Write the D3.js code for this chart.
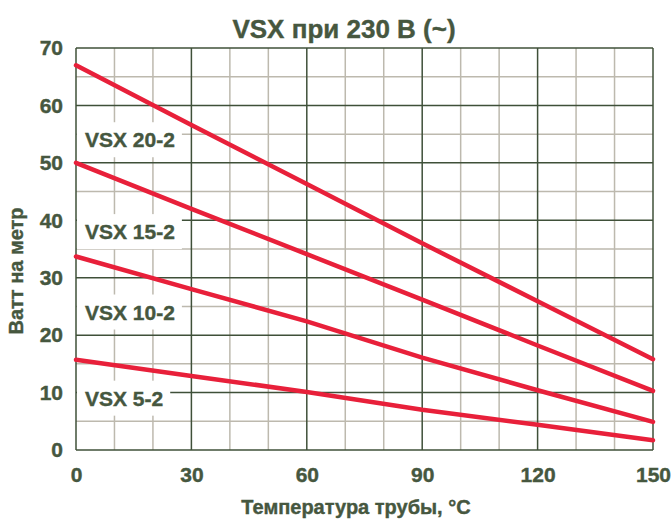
<!DOCTYPE html>
<html>
<head>
<meta charset="utf-8">
<script src="https://cdn.jsdelivr.net/npm/d3@7"></script>
<style>
  body { margin: 0; background: #fff; }
  text { font-family: "Liberation Sans", Arial, sans-serif; font-weight: bold; fill: #46573f; stroke: #46573f; stroke-width: 0.4px; }
</style>
</head>
<body>
<script>
// data
var temps = [0, 30, 60, 90, 120, 150];
var seriesNames = ["VSX 20-2", "VSX 15-2", "VSX 10-2", "VSX 5-2"];
var vsx20 = [67, 56.6, 46.3, 36.0, 25.9, 15.8];
var vsx15 = [50, 42.0, 34.1, 26.2, 18.2, 10.3];
var vsx10 = [33.7, 28.0, 22.4, 16.1, 10.4, 4.9];
var vsx5 = [15.7, 12.9, 10.1, 7.0, 4.4, 1.7];
var labelAt = [54, 38, 24, 9];   // value where each series label sits
var xTicks = [0, 30, 60, 90, 120, 150];
var yTicks = [0, 10, 20, 30, 40, 50, 60, 70];

var seriesValues = [vsx20, vsx15, vsx10, vsx5];

var W = 671, H = 519;
var margin = { top: 48, right: 18, bottom: 69, left: 76 },
  width = W - margin.left - margin.right,
  height = H - margin.top - margin.bottom;

var dark = "#3f5039", light = "#bdb9ae", red = "#e8203a";

var svg = d3.select("body").append("svg")
  .attr("width", W)
  .attr("height", H);

var g = svg.append("g")
  .attr("transform", "translate(" + margin.left + "," + margin.top + ")");

var x = d3.scaleLinear().domain([0, 150]).range([0, width]);
var y = d3.scaleLinear().domain([0, 70]).range([height, 0]);

// minor grid
g.append("g").selectAll("line")
  .data(d3.range(10, 150, 10).filter(function (v) { return v % 30 != 0; }))
  .enter().append("line")
  .attr("x1", function (d) { return x(d); }).attr("x2", function (d) { return x(d); })
  .attr("y1", 0).attr("y2", height)
  .attr("stroke", light).attr("stroke-width", 1.5);

g.append("g").selectAll("line")
  .data(d3.range(5, 70, 10))
  .enter().append("line")
  .attr("y1", function (d) { return y(d); }).attr("y2", function (d) { return y(d); })
  .attr("x1", 0).attr("x2", width)
  .attr("stroke", light).attr("stroke-width", 1.5);

// major grid
g.append("g").selectAll("line")
  .data(yTicks)
  .enter().append("line")
  .attr("y1", function (d) { return y(d); }).attr("y2", function (d) { return y(d); })
  .attr("x1", 0).attr("x2", width)
  .attr("stroke", dark).attr("stroke-width", 1.5);

g.append("g").selectAll("line")
  .data(xTicks)
  .enter().append("line")
  .attr("x1", function (d) { return x(d); }).attr("x2", function (d) { return x(d); })
  .attr("y1", 0).attr("y2", height)
  .attr("stroke", dark).attr("stroke-width", 1.5);

// axes (labels only)
var xAxis = g.append("g")
  .attr("transform", "translate(0," + height + ")")
  .call(d3.axisBottom(x).tickValues(xTicks).tickSize(0).tickPadding(17));
var yAxis = g.append("g")
  .call(d3.axisLeft(y).tickValues(yTicks).tickSize(0).tickPadding(13));
[xAxis, yAxis].forEach(function (a) {
  a.select(".domain").remove();
  a.selectAll("text")
    .style("font-family", "Liberation Sans, Arial, sans-serif")
    .style("font-weight", "bold")
    .style("font-size", "21px")
    .attr("fill", "#46573f");
});

// series labels with white boxes
seriesNames.forEach(function (name, i) {
  var t = g.append("text")
    .attr("x", 9)
    .attr("y", y(labelAt[i]))
    .attr("dy", "0.35em")
    .style("font-size", "21px")
    .text(name);
  var bb = t.node().getBBox();
  g.insert("rect", function () { return t.node(); })
    .attr("x", 1)
    .attr("y", bb.y - 6)
    .attr("width", bb.x + bb.width + 6)
    .attr("height", bb.height + 12)
    .attr("fill", "#fff");
});

// red lines
var line = d3.line()
  .x(function (d, i) { return x(temps[i]); })
  .y(function (d) { return y(d); });

g.selectAll(".series")
  .data(seriesValues)
  .enter().append("path")
  .attr("class", "series")
  .attr("d", line)
  .attr("fill", "none")
  .attr("stroke", red)
  .attr("stroke-width", 4.5)
  .attr("stroke-linecap", "round");

// titles
svg.append("text")
  .attr("x", 344)
  .attr("y", 38)
  .attr("text-anchor", "middle")
  .style("font-size", "26px")
  .text("VSX при 230 В (~)");

svg.append("text")
  .attr("x", 356)
  .attr("y", 514)
  .attr("text-anchor", "middle")
  .style("font-size", "20px")
  .text("Температура трубы, °C");

svg.append("text")
  .attr("transform", "translate(23,271) rotate(-90)")
  .attr("text-anchor", "middle")
  .style("font-size", "20px")
  .text("Ватт на метр");
</script>
</body>
</html>
